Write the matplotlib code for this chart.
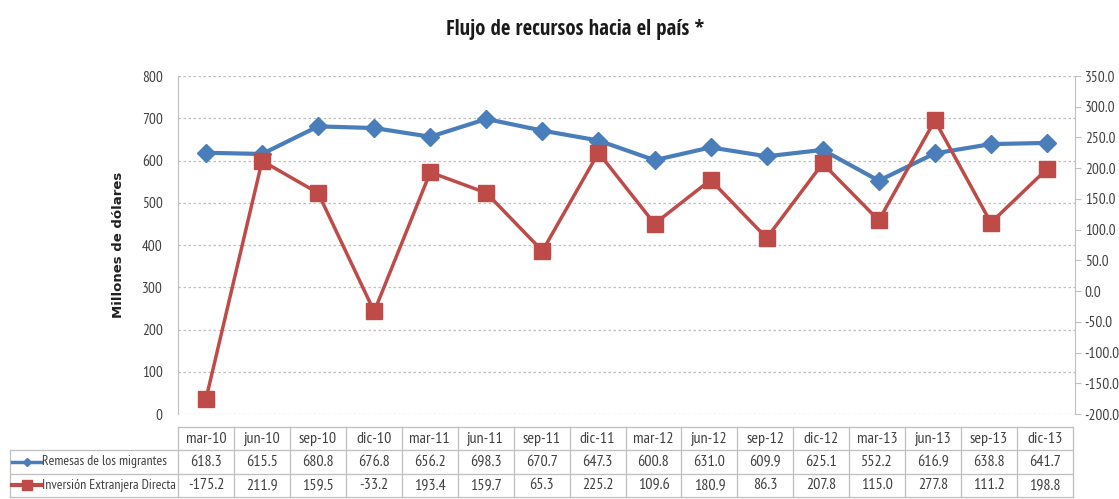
import matplotlib
matplotlib.use("Agg")
import matplotlib.pyplot as plt
from matplotlib.lines import Line2D

plt.rcParams['font.family'] = ['PT Sans Narrow', 'Roboto Condensed', 'DejaVu Sans']

periods = ["mar-10", "jun-10", "sep-10", "dic-10", "mar-11", "jun-11", "sep-11", "dic-11",
           "mar-12", "jun-12", "sep-12", "dic-12", "mar-13", "jun-13", "sep-13", "dic-13"]
remesas = [618.3, 615.5, 680.8, 676.8, 656.2, 698.3, 670.7, 647.3,
           600.8, 631.0, 609.9, 625.1, 552.2, 616.9, 638.8, 641.7]
inversion = [-175.2, 211.9, 159.5, -33.2, 193.4, 159.7, 65.3, 225.2,
             109.6, 180.9, 86.3, 207.8, 115.0, 277.8, 111.2, 198.8]
series_names = ["Remesas de los migrantes", "Inversión Extranjera Directa"]
left_ticks = list(range(0, 900, 100))
right_ticks = [-200 + 50 * i for i in range(12)]

blue = "#4A7EBB"
red = "#BE4B48"
grid_c = "#BFBFBF"
text_c = "#404040"

W, H = 1119, 499
fig = plt.figure(figsize=(W / 100, H / 100), dpi=100)

def fx(px):
    return px / W

def fy(py):
    return 1 - py / H

x0, x1 = 178, 1075
y_top, y_bot = 76, 414
ax = fig.add_axes([fx(x0), fy(y_bot), fx(x1) - fx(x0), fy(y_top) - fy(y_bot)])
n = len(periods)
xs = list(range(n))
ax.set_xlim(-0.5, n - 0.5)
ax.set_ylim(0, 800)
ax.set_yticks(left_ticks)
ax.set_yticklabels([str(v) for v in left_ticks], fontsize=11, color=text_c)
ax.set_xticks([])
for s in ["top", "right", "bottom"]:
    ax.spines[s].set_visible(False)
ax.spines["left"].set_color(grid_c)
ax.tick_params(axis="y", length=0, pad=11)
ax.grid(axis="y", color=grid_c, linestyle=(0, (2, 2)), linewidth=0.9)
ax.set_axisbelow(True)
ax.set_ylabel("Millones de dólares", fontsize=9.5, fontweight="bold",
              family=["DejaVu Sans"], color="#202020")
ax.yaxis.set_label_coords((125 - x0) / (x1 - x0), 0.5)

ax2 = ax.twinx()
ax2.set_ylim(-200, 350)
ax2.set_yticks(right_ticks)
ax2.set_yticklabels([f"{v:.1f}" for v in right_ticks], fontsize=11, color=text_c)
for s in ["top", "left", "bottom"]:
    ax2.spines[s].set_visible(False)
ax2.spines["right"].set_color(grid_c)
ax2.tick_params(axis="y", length=4, color=grid_c, direction="out", pad=3)

ax.plot(xs, remesas, color=blue, lw=3, marker="D", ms=9, markerfacecolor=blue,
        markeredgecolor=blue, zorder=3)
ax2.plot(xs, inversion, color=red, lw=2.5, marker="s", ms=11, markerfacecolor=red,
         markeredgecolor=red, zorder=4)

fig.text(fx(575), fy(30), "Flujo de recursos hacia el país *", ha="center", va="center",
         fontsize=15, fontweight="bold", family=["Open Sans Condensed", "DejaVu Sans"],
         color="#1a1a1a")

# data table beneath the plot
tab = fig.add_axes([fx(x0), fy(497), fx(1073) - fx(x0), fy(427) - fy(497)])
tab.set_xlim(-0.5, n - 0.5)
tab.set_ylim(0, 3)
tab.axis("off")
col_w = (1073 - x0) / n
label_left = -0.5 - (x0 - 10) / col_w
lc = "#BFBFBF"
lw = 0.9
# horizontal lines
tab.plot([-0.5, n - 0.5], [3, 3], color=lc, lw=lw, clip_on=False)
for yv in [2, 1, 0]:
    tab.plot([label_left, n - 0.5], [yv, yv], color=lc, lw=lw, clip_on=False)
# vertical lines
tab.plot([label_left, label_left], [0, 2], color=lc, lw=lw, clip_on=False)
for i in range(n + 1):
    tab.plot([i - 0.5, i - 0.5], [0, 3], color=lc, lw=lw, clip_on=False)

fs = 11.5
for i, p in enumerate(periods):
    tab.text(i, 2.5, p, ha="center", va="center", fontsize=fs, color=text_c)
    tab.text(i, 1.5, f"{remesas[i]:.1f}", ha="center", va="center", fontsize=fs, color=text_c)
    tab.text(i, 0.5, f"{inversion[i]:.1f}", ha="center", va="center", fontsize=fs, color=text_c)

# legend keys inside the row labels
key_x0 = label_left + 0.04
key_x1 = key_x0 + 0.52
tab.add_line(Line2D([key_x0, key_x1], [1.5, 1.5], color=blue, lw=2.5, clip_on=False))
tab.plot([(key_x0 + key_x1) / 2], [1.5], marker="D", ms=4, color=blue, clip_on=False)
tab.add_line(Line2D([key_x0, key_x1], [0.5, 0.5], color=red, lw=3, clip_on=False))
tab.plot([(key_x0 + key_x1) / 2], [0.5], marker="s", ms=7, color=red, clip_on=False)
tab.text(key_x1 + 0.01, 1.5, series_names[0], ha="left", va="center", fontsize=10, color=text_c)
tab.text(key_x1 + 0.01, 0.5, series_names[1], ha="left", va="center", fontsize=10, color=text_c)

fig.savefig("out.png", dpi=100)
